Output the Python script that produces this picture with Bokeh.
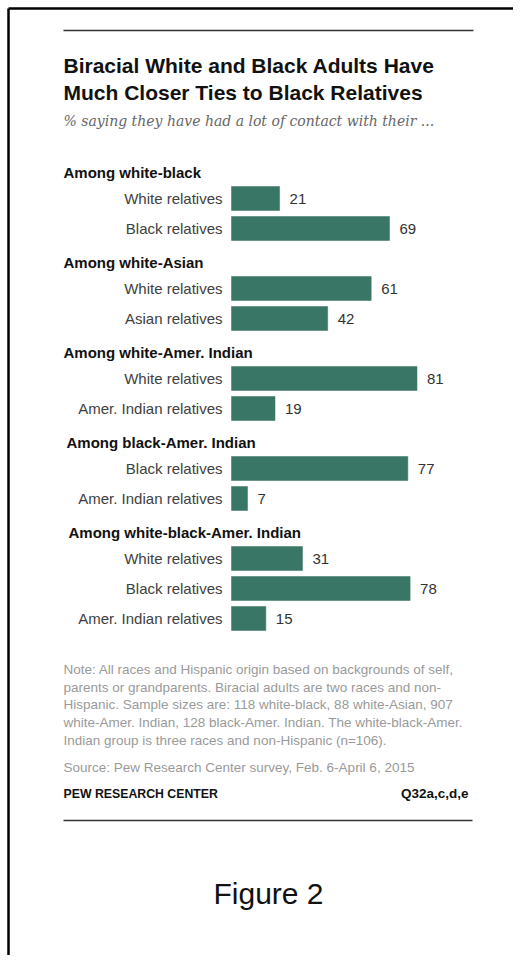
from bokeh.plotting import figure
from bokeh.models import ColumnDataSource, Range1d
from bokeh.core.properties import value
from bokeh.embed import file_html
from bokeh.resources import INLINE

# ---------------- data ----------------
title_lines = ["Biracial White and Black Adults Have",
               "Much Closer Ties to Black Relatives"]
subtitle = "% saying they have had a lot of contact with their ..."
groups = ["Among white-black", "Among white-Asian", "Among white-Amer. Indian",
          "Among black-Amer. Indian", "Among white-black-Amer. Indian"]
group_labels = [["White relatives", "Black relatives"],
                ["White relatives", "Asian relatives"],
                ["White relatives", "Amer. Indian relatives"],
                ["Black relatives", "Amer. Indian relatives"],
                ["White relatives", "Black relatives", "Amer. Indian relatives"]]
group_values = [[21, 69], [61, 42], [81, 19], [77, 7], [31, 78, 15]]
note_lines = ["Note: All races and Hispanic origin based on backgrounds of self,",
              "parents or grandparents. Biracial adults are two races and non-",
              "Hispanic. Sample sizes are: 118 white-black, 88 white-Asian, 907",
              "white-Amer. Indian, 128 black-Amer. Indian. The white-black-Amer.",
              "Indian group is three races and non-Hispanic (n=106)."]
source_line = "Source: Pew Research Center survey, Feb. 6-April 6, 2015"
brand = "PEW RESEARCH CENTER"
qcode = "Q32a,c,d,e"
caption = "Figure 2"

# ---------------- layout helpers ----------------
W, H = 513, 955
ORIGIN = 0              # picture pixel of the figure's top-left corner
PX_PER_UNIT = 2.29      # pixels per percentage point
BAR_X0 = 231            # picture x of value 0
ROW_PX = 30             # pixels per row slot
ROW0_Y = 198            # picture y of first bar centre


def X(px):
    return (px - BAR_X0) / PX_PER_UNIT


def Y(py):
    return (py - ROW0_Y) / ROW_PX


BAR_COLOR = "#3a7665"
FONT = value("Liberation Sans")

# build rows
bar_y, bar_v, bar_lab, bar_txt = [], [], [], []
head_y, head_x = [], []
head_indent = [0, 0, 0, 3, 5]
slot = 0
for gi, g in enumerate(groups):
    head_y.append(slot - 0.88)
    head_x.append(X(63 + head_indent[gi]))
    for lab, v in zip(group_labels[gi], group_values[gi]):
        bar_y.append(slot)
        bar_v.append(v)
        bar_lab.append(lab)
        bar_txt.append(str(v))
        slot += 1
    slot += 1

src = ColumnDataSource(dict(y=bar_y, value=bar_v, label=bar_lab, vtext=bar_txt,
                            zero=[0] * len(bar_y)))

p = figure(width=W, height=H, output_backend="svg", toolbar_location=None,
           x_range=Range1d(X(ORIGIN), X(ORIGIN + W)),
           y_range=Range1d(Y(ORIGIN + H), Y(ORIGIN)),
           min_border=0, outline_line_color=None, background_fill_color="white",
           border_fill_color="white")
p.xaxis.visible = False
p.yaxis.visible = False
p.grid.visible = False

# page border lines (top and left)
p.segment(x0=[X(8), X(8)], y0=[Y(8), Y(8)], x1=[X(ORIGIN + W), X(8)],
          y1=[Y(8), Y(ORIGIN + H)], line_color="black", line_width=2.5)

# rules
p.segment(x0=[X(63)], y0=[Y(30)], x1=[X(473)], y1=[Y(30)], line_color="#333333", line_width=1.5)
p.segment(x0=[X(63)], y0=[Y(820)], x1=[X(472)], y1=[Y(820)], line_color="#333333", line_width=1.5)

# title
p.text(x=[X(63), X(63)], y=[Y(65), Y(92)], text=title_lines, text_font=FONT,
       text_font_style="bold", text_font_size="21px", text_color="#111111",
       text_baseline="alphabetic", text_align="left")
p.text(x=[X(63)], y=[Y(120)], text=[subtitle], text_font=value("DejaVu Serif"),
       text_font_style="italic", text_font_size="14px", text_color="#666666",
       text_baseline="alphabetic", text_align="left")

# group headers
p.text(x=head_x, y=head_y, text=groups, text_font=FONT, text_font_style="bold",
       text_font_size="15px", text_color="#111111", text_baseline="middle",
       text_align="left")

# bars
p.hbar(y="y", left="zero", right="value", height=0.8, source=src,
       fill_color=BAR_COLOR, line_color=BAR_COLOR, line_width=0.5)

# category labels
p.text(x="zero", y="y", text="label", source=src, x_offset=-9, text_font=FONT,
       text_font_size="15px", text_color="#404040", text_baseline="middle",
       text_align="right")

# value labels
p.text(x="value", y="y", text="vtext", source=src, x_offset=10, text_font=FONT,
       text_font_size="15px", text_color="#333333", text_baseline="middle",
       text_align="left")

# notes
note_y = [669, 687, 704, 722, 739.5]
p.text(x=[X(63)] * len(note_lines), y=[Y(v) for v in note_y], text=note_lines,
       text_font=FONT, text_font_size="13.5px", text_color="#9a9a9a",
       text_baseline="middle", text_align="left")
p.text(x=[X(63)], y=[Y(767)], text=[source_line], text_font=FONT,
       text_font_size="13.5px", text_color="#9a9a9a", text_baseline="middle",
       text_align="left")
p.text(x=[X(63)], y=[Y(793)], text=[brand], text_font=FONT, text_font_style="bold",
       text_font_size="12.3px", text_color="#111111", text_baseline="middle",
       text_align="left")
p.text(x=[X(468)], y=[Y(793)], text=[qcode], text_font=FONT, text_font_style="bold",
       text_font_size="13.5px", text_color="#111111", text_baseline="middle",
       text_align="right")

# caption
p.text(x=[X(268)], y=[Y(893)], text=[caption], text_font=value("Liberation Sans"),
       text_font_size="30px", text_color="#111111", text_baseline="middle",
       text_align="center")

open("out.html", "w").write(file_html(p, INLINE))
